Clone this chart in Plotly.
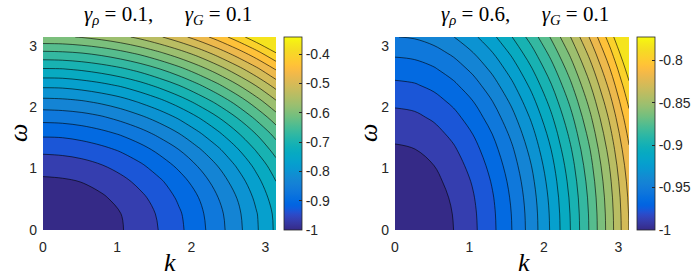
import plotly.graph_objects as go

# ---------------- data ----------------
k_vals = [0.0, 0.2618, 0.5236, 0.7854, 1.0472, 1.3090, 1.5708, 1.8326, 2.0944, 2.3562, 2.6180, 2.8798, 3.1416]
omega_vals = [0.0, 0.2618, 0.5236, 0.7854, 1.0472, 1.3090, 1.5708, 1.8326, 2.0944, 2.3562, 2.6180, 2.8798, 3.1416]

# rows: omega, columns: k
z_left = [
    [-1.000, -0.998, -0.993, -0.984, -0.971, -0.955, -0.936, -0.913, -0.886, -0.856, -0.822, -0.784, -0.743],
    [-0.997, -0.995, -0.990, -0.981, -0.969, -0.953, -0.933, -0.910, -0.883, -0.853, -0.819, -0.782, -0.741],
    [-0.989, -0.987, -0.982, -0.973, -0.960, -0.944, -0.925, -0.901, -0.875, -0.844, -0.811, -0.773, -0.732],
    [-0.975, -0.973, -0.968, -0.959, -0.946, -0.930, -0.911, -0.888, -0.861, -0.830, -0.797, -0.759, -0.718],
    [-0.955, -0.953, -0.948, -0.939, -0.927, -0.911, -0.891, -0.868, -0.841, -0.811, -0.777, -0.740, -0.699],
    [-0.930, -0.928, -0.923, -0.914, -0.902, -0.886, -0.866, -0.843, -0.816, -0.786, -0.752, -0.714, -0.673],
    [-0.899, -0.898, -0.892, -0.883, -0.871, -0.855, -0.835, -0.812, -0.785, -0.755, -0.721, -0.684, -0.643],
    [-0.863, -0.861, -0.856, -0.847, -0.834, -0.818, -0.799, -0.776, -0.749, -0.719, -0.685, -0.647, -0.606],
    [-0.821, -0.819, -0.814, -0.805, -0.793, -0.776, -0.757, -0.734, -0.707, -0.677, -0.643, -0.605, -0.564],
    [-0.773, -0.772, -0.766, -0.757, -0.745, -0.729, -0.709, -0.686, -0.659, -0.629, -0.595, -0.558, -0.517],
    [-0.720, -0.719, -0.713, -0.704, -0.692, -0.676, -0.656, -0.633, -0.606, -0.576, -0.542, -0.505, -0.464],
    [-0.662, -0.660, -0.655, -0.646, -0.633, -0.617, -0.597, -0.574, -0.548, -0.517, -0.483, -0.446, -0.405],
    [-0.597, -0.596, -0.590, -0.581, -0.569, -0.553, -0.533, -0.510, -0.483, -0.453, -0.419, -0.382, -0.341],
]
z_right = [
    [-1.0000, -0.9988, -0.9952, -0.9892, -0.9807, -0.9699, -0.9566, -0.9410, -0.9229, -0.9024, -0.8795, -0.8542, -0.8265],
    [-0.9996, -0.9984, -0.9948, -0.9888, -0.9803, -0.9695, -0.9562, -0.9406, -0.9225, -0.9020, -0.8791, -0.8538, -0.8261],
    [-0.9985, -0.9973, -0.9937, -0.9877, -0.9792, -0.9684, -0.9551, -0.9395, -0.9214, -0.9009, -0.8780, -0.8527, -0.8250],
    [-0.9966, -0.9954, -0.9918, -0.9858, -0.9774, -0.9665, -0.9533, -0.9376, -0.9195, -0.8990, -0.8761, -0.8508, -0.8231],
    [-0.9940, -0.9928, -0.9892, -0.9832, -0.9747, -0.9639, -0.9506, -0.9350, -0.9169, -0.8964, -0.8735, -0.8482, -0.8205],
    [-0.9906, -0.9894, -0.9858, -0.9798, -0.9714, -0.9605, -0.9473, -0.9316, -0.9135, -0.8930, -0.8702, -0.8448, -0.8171],
    [-0.9865, -0.9853, -0.9817, -0.9757, -0.9672, -0.9564, -0.9432, -0.9275, -0.9094, -0.8889, -0.8660, -0.8407, -0.8130],
    [-0.9817, -0.9805, -0.9768, -0.9708, -0.9624, -0.9515, -0.9383, -0.9226, -0.9045, -0.8841, -0.8612, -0.8359, -0.8082],
    [-0.9760, -0.9748, -0.9712, -0.9652, -0.9568, -0.9459, -0.9327, -0.9170, -0.8989, -0.8785, -0.8556, -0.8303, -0.8025],
    [-0.9697, -0.9685, -0.9649, -0.9588, -0.9504, -0.9396, -0.9263, -0.9106, -0.8926, -0.8721, -0.8492, -0.8239, -0.7962],
    [-0.9626, -0.9614, -0.9578, -0.9517, -0.9433, -0.9325, -0.9192, -0.9035, -0.8855, -0.8650, -0.8421, -0.8168, -0.7891],
    [-0.9547, -0.9535, -0.9499, -0.9439, -0.9354, -0.9246, -0.9113, -0.8957, -0.8776, -0.8571, -0.8342, -0.8089, -0.7812],
    [-0.9461, -0.9449, -0.9413, -0.9353, -0.9268, -0.9160, -0.9027, -0.8871, -0.8690, -0.8485, -0.8256, -0.8003, -0.7726],
]

axis_tick_vals = [0, 1, 2, 3]
axis_tick_text = ["0", "1", "2", "3"]
cb_left_vals = [-1, -0.9, -0.8, -0.7, -0.6, -0.5, -0.4]
cb_left_text = ["-1", "-0.9", "-0.8", "-0.7", "-0.6", "-0.5", "-0.4"]
cb_right_vals = [-1, -0.95, -0.9, -0.85, -0.8]
cb_right_text = ["-1", "-0.95", "-0.9", "-0.85", "-0.8"]
GAP = "&nbsp;" * 6
title_left = "<i>γ</i><sub><i>ρ</i></sub> = 0.1," + GAP + "<i>γ</i><sub><i>G</i></sub> = 0.1"
title_right = "<i>γ</i><sub><i>ρ</i></sub> = 0.6," + GAP + "<i>γ</i><sub><i>G</i></sub> = 0.1"
n_levels = 20

# ---------------- style ----------------
PARULA = [
    (0.2081, 0.1663, 0.5292), (0.2116, 0.1898, 0.5777), (0.2123, 0.2138, 0.6270), (0.2081, 0.2386, 0.6771),
    (0.1959, 0.2645, 0.7279), (0.1707, 0.2919, 0.7792), (0.1253, 0.3242, 0.8303), (0.0591, 0.3598, 0.8683),
    (0.0117, 0.3875, 0.8820), (0.0060, 0.4086, 0.8828), (0.0165, 0.4266, 0.8786), (0.0329, 0.4430, 0.8720),
    (0.0498, 0.4586, 0.8641), (0.0629, 0.4737, 0.8554), (0.0723, 0.4887, 0.8467), (0.0779, 0.5040, 0.8384),
    (0.0793, 0.5200, 0.8312), (0.0749, 0.5375, 0.8263), (0.0641, 0.5570, 0.8240), (0.0488, 0.5772, 0.8228),
    (0.0343, 0.5966, 0.8199), (0.0265, 0.6137, 0.8135), (0.0239, 0.6287, 0.8038), (0.0231, 0.6418, 0.7913),
    (0.0228, 0.6535, 0.7768), (0.0267, 0.6642, 0.7607), (0.0384, 0.6743, 0.7436), (0.0590, 0.6838, 0.7254),
    (0.0843, 0.6928, 0.7062), (0.1133, 0.7015, 0.6859), (0.1453, 0.7098, 0.6646), (0.1801, 0.7177, 0.6424),
    (0.2178, 0.7250, 0.6193), (0.2586, 0.7317, 0.5954), (0.3022, 0.7376, 0.5712), (0.3482, 0.7424, 0.5473),
    (0.3953, 0.7459, 0.5244), (0.4420, 0.7481, 0.5033), (0.4871, 0.7491, 0.4840), (0.5300, 0.7491, 0.4661),
    (0.5709, 0.7485, 0.4494), (0.6099, 0.7473, 0.4337), (0.6473, 0.7456, 0.4188), (0.6834, 0.7435, 0.4044),
    (0.7184, 0.7411, 0.3905), (0.7525, 0.7384, 0.3768), (0.7858, 0.7356, 0.3633), (0.8185, 0.7327, 0.3498),
    (0.8507, 0.7299, 0.3360), (0.8824, 0.7274, 0.3217), (0.9139, 0.7258, 0.3063), (0.9450, 0.7261, 0.2886),
    (0.9739, 0.7314, 0.2666), (0.9938, 0.7455, 0.2403), (0.9990, 0.7653, 0.2164), (0.9955, 0.7861, 0.1967),
    (0.9880, 0.8066, 0.1794), (0.9789, 0.8271, 0.1633), (0.9697, 0.8481, 0.1475), (0.9626, 0.8705, 0.1309),
    (0.9589, 0.8949, 0.1132), (0.9598, 0.9218, 0.0948), (0.9661, 0.9514, 0.0755), (0.9763, 0.9831, 0.0538),
]


def parula_at(q):
    q = min(max(q, 0.0), 1.0)
    pos = q * (len(PARULA) - 1)
    i = int(pos)
    if i >= len(PARULA) - 1:
        c = PARULA[-1]
    else:
        t = pos - i
        a, b = PARULA[i], PARULA[i + 1]
        c = tuple(a[j] + (b[j] - a[j]) * t for j in range(3))
    return "rgb(%d,%d,%d)" % tuple(round(255 * v) for v in c)


full_scale = [[j / 63, parula_at(j / 63)] for j in range(64)]
# plotly fills band b with colorscale fraction b/n_levels; MATLAB uses b/(n_levels+1)
band_scale = [[j / 60, parula_at((j / 60) * n_levels / (n_levels + 1))] for j in range(61)]

W, H = 699, 277
TXT = "#262626"
SANS = "Liberation Sans, Arial, sans-serif"
SERIF = "Liberation Serif, Times New Roman, serif"


def px_x(p):
    return p / W


def px_y(p):
    return 1 - p / H


fig = go.Figure()

panels = [
    dict(z=z_left, xa="x", ya="y", cb0=284, cbv=cb_left_vals, cbt=cb_left_text,
         title=title_left, tx=168, kx=170, wx=19),
    dict(z=z_right, xa="x2", ya="y2", cb0=637, cbv=cb_right_vals, cbt=cb_right_text,
         title=title_right, tx=525, kx=524, wx=369),
]
top, bot = 37, 230

for p in panels:
    flat = [v for row in p["z"] for v in row]
    zmin, zmax = min(flat), max(flat)
    step = (zmax - zmin) / (n_levels + 1)
    fig.add_trace(go.Contour(
        x=k_vals, y=omega_vals, z=p["z"], xaxis=p["xa"], yaxis=p["ya"],
        colorscale=band_scale, showscale=False,
        contours=dict(coloring="fill", start=zmin + step, end=zmin + (n_levels - 0.5) * step, size=step),
        line=dict(color="black", width=0.6, smoothing=1.0),
        hoverinfo="skip",
    ))
    fig.add_trace(go.Scatter(
        x=[-10], y=[-10], xaxis=p["xa"], yaxis=p["ya"], mode="markers",
        marker=dict(color=[zmin], cmin=zmin, cmax=zmax, colorscale=full_scale, showscale=True,
                    colorbar=dict(
                        x=px_x(p["cb0"]), xanchor="left", xpad=0, ypad=0,
                        y=px_y((top + bot) / 2), yanchor="middle",
                        len=(bot - top) / H, lenmode="fraction",
                        thickness=17.5, thicknessmode="pixels",
                        outlinewidth=0.8, outlinecolor=TXT,
                        tickmode="array", tickvals=p["cbv"], ticktext=p["cbt"],
                        ticks="inside", ticklen=3, tickcolor=TXT,
                        tickfont=dict(family=SANS, size=14, color=TXT),
                    )),
        showlegend=False, hoverinfo="skip",
    ))
    fig.add_annotation(text=p["title"], x=px_x(p["tx"]), y=px_y(15), xref="paper", yref="paper",
                       showarrow=False, xanchor="center", yanchor="middle",
                       font=dict(family=SERIF, size=21, color="black"))
    fig.add_annotation(text="<i>k</i>", x=px_x(p["kx"]), y=px_y(262), xref="paper", yref="paper",
                       showarrow=False, xanchor="center", yanchor="middle",
                       font=dict(family=SERIF, size=26, color="black"))
    fig.add_annotation(text="<i>ω</i>", x=px_x(p["wx"]), y=px_y(133), xref="paper", yref="paper",
                       showarrow=False, xanchor="center", yanchor="middle", textangle=-90,
                       font=dict(family=SERIF, size=26, color="black"))

ax_common = dict(range=[0, 3.1416], tickmode="array", tickvals=axis_tick_vals, ticktext=axis_tick_text,
                 showgrid=False, zeroline=False, showline=False, ticks="", automargin=False,
                 tickfont=dict(family=SANS, size=14, color=TXT))

fig.update_layout(
    width=W, height=H, margin=dict(l=0, r=0, t=0, b=0, autoexpand=False),
    paper_bgcolor="white", plot_bgcolor="white", showlegend=False, hovermode=False,
    xaxis=dict(domain=[px_x(43), px_x(276)], anchor="y", ticklabelstandoff=7, **ax_common),
    yaxis=dict(domain=[px_y(bot), px_y(top)], anchor="x", ticklabelstandoff=5, **ax_common),
    xaxis2=dict(domain=[px_x(395), px_x(629)], anchor="y2", ticklabelstandoff=7, **ax_common),
    yaxis2=dict(domain=[px_y(bot), px_y(top)], anchor="x2", ticklabelstandoff=5, **ax_common),
)

fig.write_html("out.html", config={"displayModeBar": False},
               post_script="document.body.style.margin='0';document.body.style.overflow='hidden';")
